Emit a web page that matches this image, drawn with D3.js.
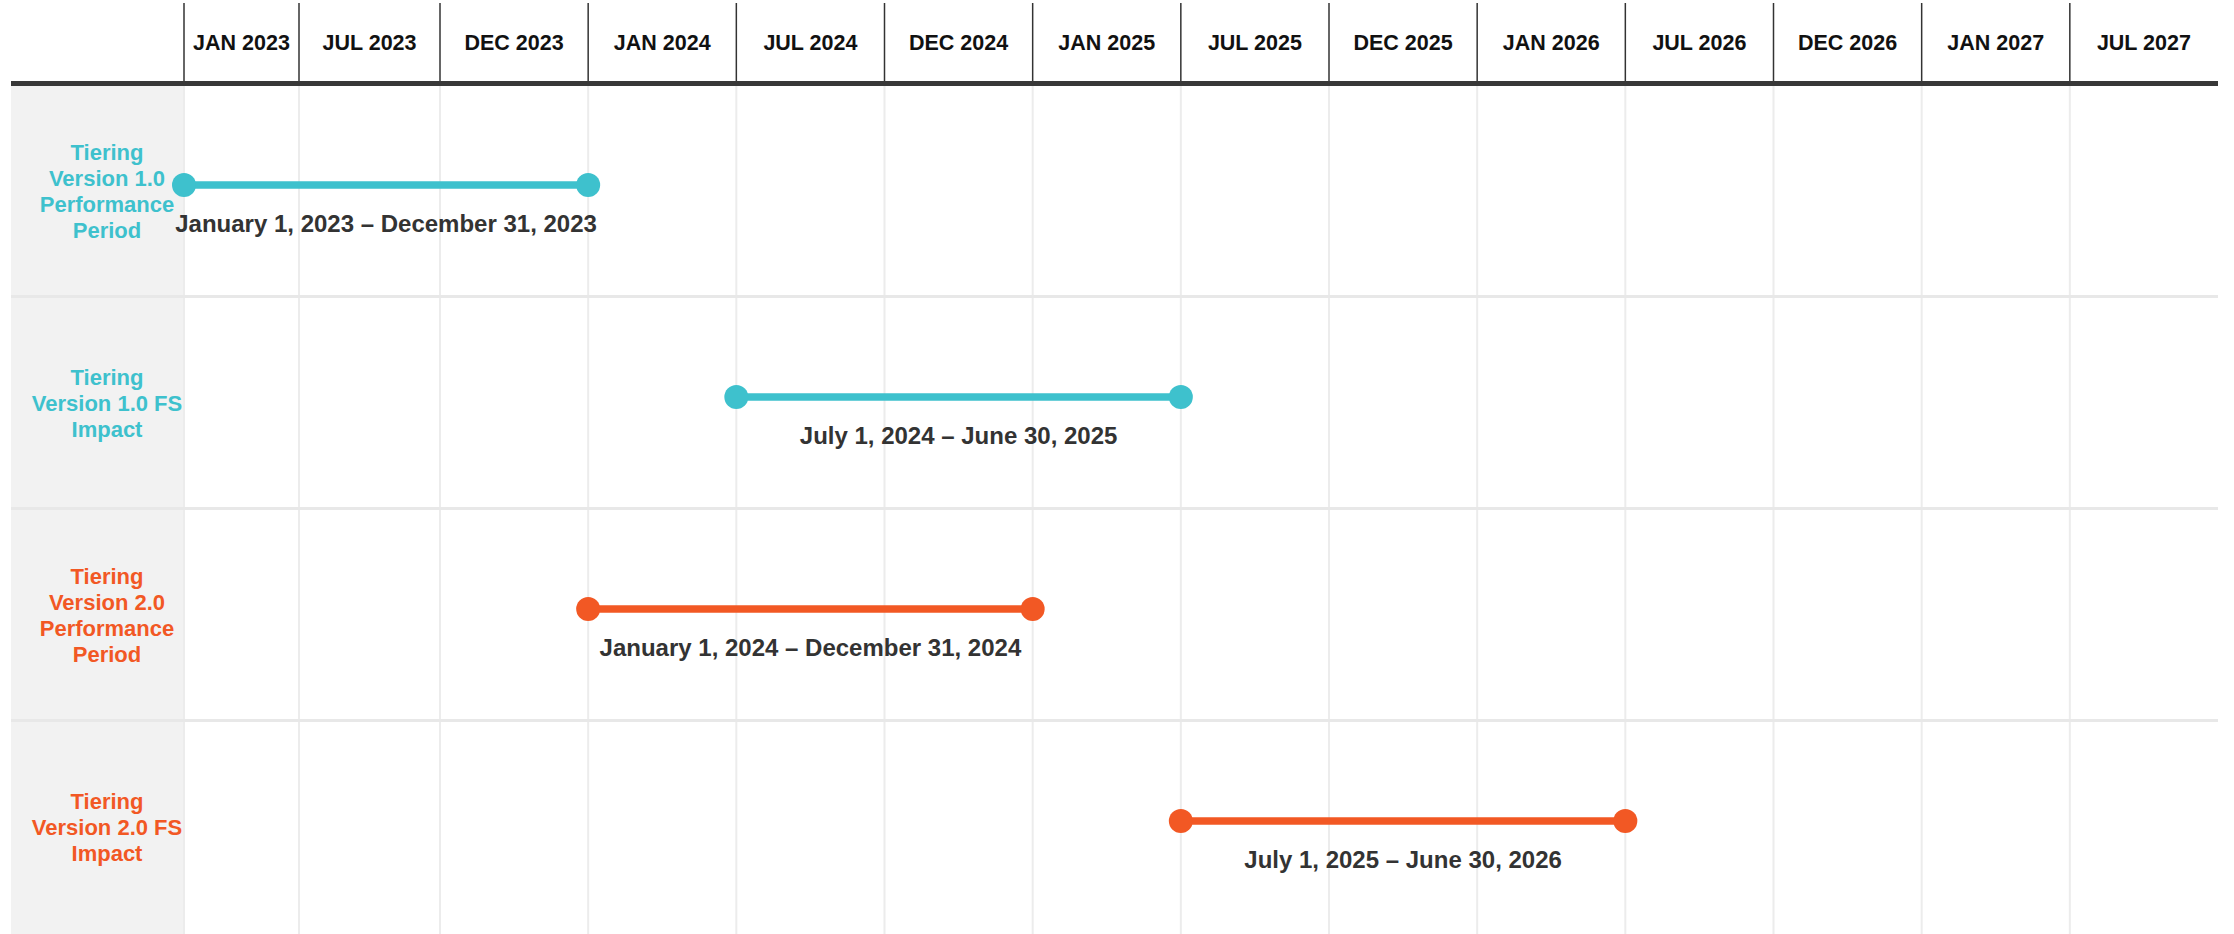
<!DOCTYPE html>
<html>
<head>
<meta charset="utf-8">
<script src="https://cdn.jsdelivr.net/npm/d3@7"></script>
<style>
  html, body { margin: 0; padding: 0; background: #fff; }
  text { font-family: "Liberation Sans", Arial, sans-serif; font-weight: bold; }
</style>
</head>
<body>
<script>
var columns = ["JAN 2023", "JUL 2023", "DEC 2023", "JAN 2024", "JUL 2024", "DEC 2024", "JAN 2025",
               "JUL 2025", "DEC 2025", "JAN 2026", "JUL 2026", "DEC 2026", "JAN 2027", "JUL 2027"];

var rowLabels = ["Tiering\nVersion 1.0\nPerformance\nPeriod",
                 "Tiering\nVersion 1.0 FS\nImpact",
                 "Tiering\nVersion 2.0\nPerformance\nPeriod",
                 "Tiering\nVersion 2.0 FS\nImpact"];

var rowVersion = ["1.0", "1.0", "2.0", "2.0"];

// period starts at the left edge of the start column, ends at the left edge of the end column
var periodStart = ["JAN 2023", "JUL 2024", "JAN 2024", "JUL 2025"];
var periodEnd   = ["JAN 2024", "JUL 2025", "JAN 2025", "JUL 2026"];
var periodText  = ["January 1, 2023 \u2013 December 31, 2023",
                   "July 1, 2024 \u2013 June 30, 2025",
                   "January 1, 2024 \u2013 December 31, 2024",
                   "July 1, 2025 \u2013 June 30, 2026"];

var width = 2234, height = 934;
var left = 11, labelRight = 184, right = 2218;
var headerBottom = 86;

var svg = d3.select("body").append("svg").attr("width", width).attr("height", height);

// column boundaries (first two columns are narrower in the original layout)
var x = d3.scaleLinear()
  .domain([0, 1, 2, columns.length])
  .range([labelRight, 299, 440, right]);

var y = d3.scaleBand()
  .domain(rowLabels)
  .range([headerBottom, height]);

var color = d3.scaleOrdinal()
  .domain(["1.0", "2.0"])
  .range(["#3ec1cd", "#f25824"]);

var rows = rowLabels.map(function(d, i){
  return {label: d, version: rowVersion[i], start: periodStart[i], end: periodEnd[i], text: periodText[i]};
});

// grey label column
svg.append("rect")
  .attr("x", left)
  .attr("y", headerBottom)
  .attr("width", labelRight - left)
  .attr("height", height - headerBottom)
  .attr("fill", "#f2f2f2");

// light vertical grid in body
svg.selectAll("line.grid")
  .data(d3.range(columns.length))
  .enter().append("line")
  .attr("class", "grid")
  .attr("x1", function(d){ return x(d); })
  .attr("x2", function(d){ return x(d); })
  .attr("y1", headerBottom)
  .attr("y2", height)
  .attr("stroke", "#ececec")
  .attr("stroke-width", 2);

// row separators
svg.selectAll("line.sep")
  .data(rowLabels.slice(1))
  .enter().append("line")
  .attr("class", "sep")
  .attr("x1", left)
  .attr("x2", right)
  .attr("y1", function(d){ return y(d) - 1.5; })
  .attr("y2", function(d){ return y(d) - 1.5; })
  .attr("stroke", "#e8e8e8")
  .attr("stroke-width", 3);

// header column lines
svg.selectAll("line.head")
  .data(d3.range(columns.length))
  .enter().append("line")
  .attr("class", "head")
  .attr("x1", function(d){ return x(d); })
  .attr("x2", function(d){ return x(d); })
  .attr("y1", 3)
  .attr("y2", 81)
  .attr("stroke", "#333")
  .attr("stroke-width", 1.5);

svg.selectAll("text.col")
  .data(columns)
  .enter().append("text")
  .attr("class", "col")
  .attr("x", function(d, i){ return (x(i) + x(i + 1)) / 2; })
  .attr("y", 50)
  .attr("text-anchor", "middle")
  .attr("font-size", 21.5)
  .attr("fill", "#111")
  .text(function(d){ return d; });

// thick header rule
svg.append("rect")
  .attr("x", left)
  .attr("y", 81)
  .attr("width", right - left)
  .attr("height", 5)
  .attr("fill", "#383838");

// row labels
var lineH = 25.7;
svg.selectAll("text.row")
  .data(rows)
  .enter().append("text")
  .attr("class", "row")
  .attr("text-anchor", "middle")
  .attr("font-size", 22)
  .attr("fill", function(d){ return color(d.version); })
  .each(function(d){
    var lines = d.label.split("\n");
    var cy = y(d.label) + y.bandwidth() / 2;
    var top = cy - (lines.length - 1) * lineH / 2;
    d3.select(this).selectAll("tspan")
      .data(lines)
      .enter().append("tspan")
      .attr("x", 107)
      .attr("y", function(l, j){ return top + j * lineH + 7; })
      .text(function(l){ return l; });
  });

// period lines
function lineY(d){ return y(d.label) + 99; }

svg.selectAll("line.period")
  .data(rows)
  .enter().append("line")
  .attr("class", "period")
  .attr("x1", function(d){ return x(columns.indexOf(d.start)); })
  .attr("x2", function(d){ return x(columns.indexOf(d.end)); })
  .attr("y1", lineY)
  .attr("y2", lineY)
  .attr("stroke", function(d){ return color(d.version); })
  .attr("stroke-width", 7.5);

svg.selectAll("circle.startDot")
  .data(rows)
  .enter().append("circle")
  .attr("class", "startDot")
  .attr("cx", function(d){ return x(columns.indexOf(d.start)); })
  .attr("cy", lineY)
  .attr("r", 12)
  .attr("fill", function(d){ return color(d.version); });

svg.selectAll("circle.endDot")
  .data(rows)
  .enter().append("circle")
  .attr("class", "endDot")
  .attr("cx", function(d){ return x(columns.indexOf(d.end)); })
  .attr("cy", lineY)
  .attr("r", 12)
  .attr("fill", function(d){ return color(d.version); });

svg.selectAll("text.period")
  .data(rows)
  .enter().append("text")
  .attr("class", "period")
  .attr("x", function(d){ return (x(columns.indexOf(d.start)) + x(columns.indexOf(d.end))) / 2; })
  .attr("y", function(d){ return lineY(d) + 47; })
  .attr("text-anchor", "middle")
  .attr("font-size", 24)
  .attr("fill", "#333")
  .text(function(d){ return d.text; });
</script>
</body>
</html>
